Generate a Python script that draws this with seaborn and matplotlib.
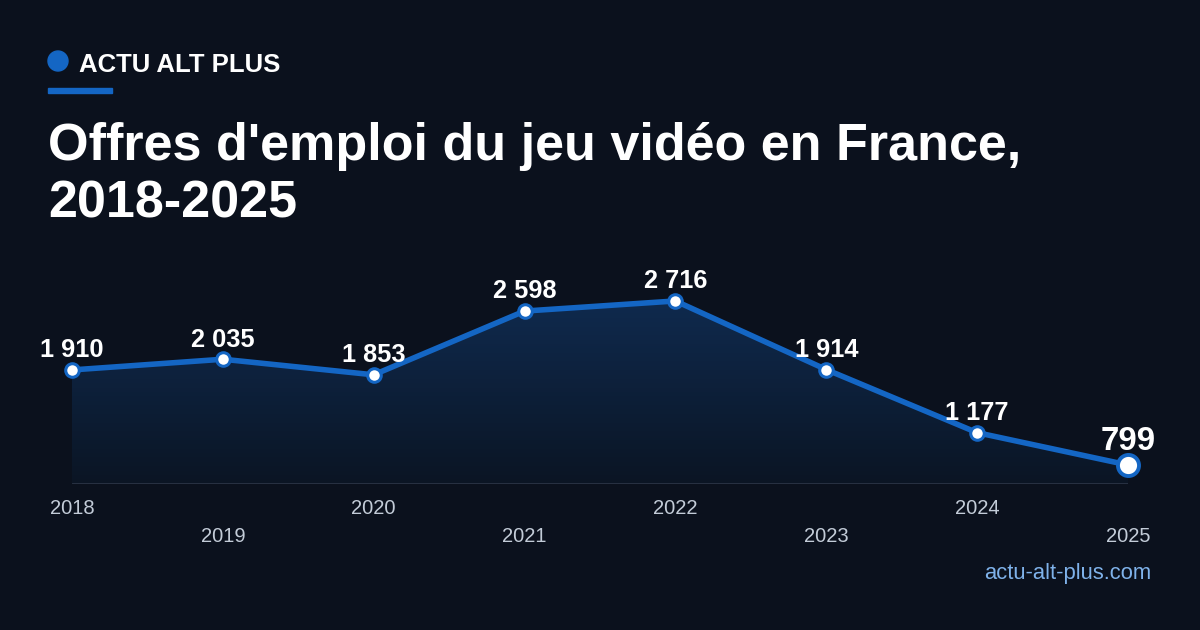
import numpy as np
import pandas as pd
import matplotlib
matplotlib.use("Agg")
import matplotlib.pyplot as plt
from matplotlib.colors import LinearSegmentedColormap
from matplotlib.patches import Ellipse, Rectangle
import seaborn as sns

years = ["2018", "2019", "2020", "2021", "2022", "2023", "2024", "2025"]
offers = [1910, 2035, 1853, 2598, 2716, 1914, 1177, 799]
labels = ["1 910", "2 035", "1 853", "2 598", "2 716", "1 914", "1 177", "799"]

BG = "#0b111d"
BLUE = "#1466c4"
sns.set_theme(style="white")
plt.rcParams["font.family"] = ["Liberation Sans", "DejaVu Sans"]

df = pd.DataFrame({"idx": np.arange(len(years)), "offers": offers})

fig = plt.figure(figsize=(12, 6.3), dpi=100, facecolor=BG)
ax = fig.add_axes([72/1200, (630-484)/630, 1056/1200, 204/630])
ax.set_facecolor("none")
ymin, ymax = 577, 2961
ax.set_xlim(0, len(years) - 1)
ax.set_ylim(ymin, ymax)

# gradient fill under line
grad = LinearSegmentedColormap.from_list("g", ["#0b1524", "#0f2a4e"])
img = ax.imshow(np.linspace(0, 1, 256).reshape(-1, 1), cmap=grad, aspect="auto",
                extent=[0, len(years) - 1, ymin, max(offers)], origin="lower", zorder=1)
poly = ax.fill_between(df["idx"], offers, ymin, color="none", lw=0)
clip = poly.get_paths()[0]
img.set_clip_path(clip, transform=ax.transData)

sns.lineplot(data=df, x="idx", y="offers", ax=ax, color=BLUE, lw=4, zorder=3)
ax.scatter(df["idx"][:-1], offers[:-1], s=95, facecolor="white", edgecolor=BLUE, lw=2.2,
           zorder=4, clip_on=False)
ax.scatter([df["idx"].iloc[-1]], [offers[-1]], s=230, facecolor="white", edgecolor=BLUE, lw=2.8,
           zorder=4, clip_on=False)

ax.axhline(ymin, color="#2b3445", lw=2, zorder=2)

for i, (v, lab) in enumerate(zip(offers, labels)):
    last = i == len(offers) - 1
    ax.annotate(lab, (i, v), xytext=(0, 5.5 if last else 5.5), textcoords="offset points",
                ha="center", va="bottom", color="white", fontweight="bold",
                fontsize=23.8 if last else 18.3, zorder=5, annotation_clip=False)

ax.set_xticks([])
ax.set_yticks([])
for s in ax.spines.values():
    s.set_visible(False)
ax.set_xlabel("")
ax.set_ylabel("")

for i, y in enumerate(years):
    ypix = 509 if i % 2 == 0 else 537
    ax.annotate(y, (i, 0), xycoords=("data", "figure fraction"),
                xytext=(i, 1 - ypix/630), textcoords=("data", "figure fraction"),
                ha="center", va="center", color="#c3ccd8", fontsize=14.5,
                annotation_clip=False)

# header
fig.add_artist(Ellipse((58/1200, 1-61/630), 20/1200, 20/630, color=BLUE, transform=fig.transFigure))
fig.text(79/1200, 1 - 65/630, "ACTU ALT PLUS", color="white", fontsize=18.5, fontweight="bold",
         va="center", ha="left")
fig.add_artist(Rectangle((48/1200, 1 - 93/630), 64/1200, 5/630, color=BLUE, transform=fig.transFigure))
fig.text(48/1200, 1 - 146/630, "Offres d'emploi du jeu vidéo en France,", color="white",
         fontsize=37.5, fontweight="bold", va="center", ha="left")
fig.text(48/1200, 1 - 204/630, "2018-2025", color="white",
         fontsize=37.5, fontweight="bold", va="center", ha="left")
fig.text(1151/1200, 1 - 573/630, "actu-alt-plus.com", color="#7fb2ea", fontsize=15.8,
         va="center", ha="right")

fig.savefig("out.png", dpi=100, facecolor=BG)
